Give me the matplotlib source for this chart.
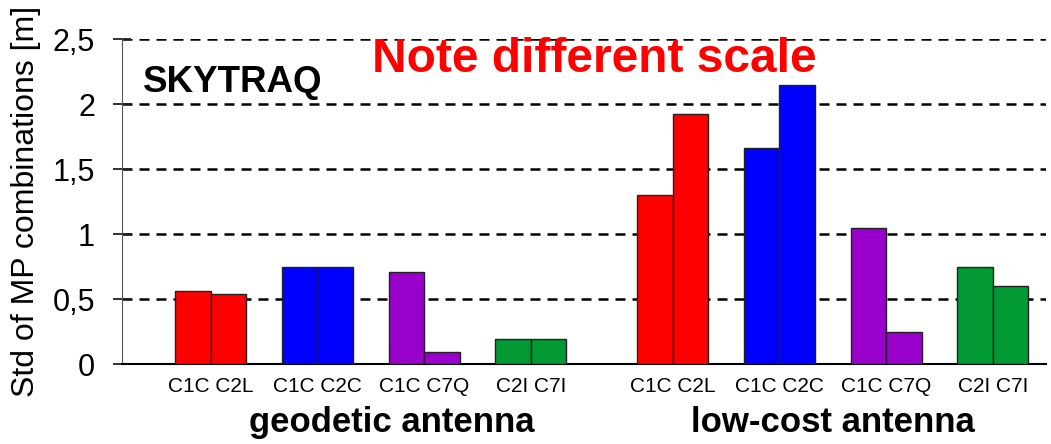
import numpy as np
import matplotlib.pyplot as plt
from matplotlib.transforms import blended_transform_factory

plt.rcParams['font.family'] = ['Liberation Sans', 'DejaVu Sans']

# std of MP combinations [m], first / second signal per pair
pairs = ['C1C C2L', 'C1C C2C', 'C1C C7Q', 'C2I C7I']
geodetic_a = [0.56, 0.75, 0.71, 0.19]
geodetic_b = [0.54, 0.75, 0.09, 0.19]
lowcost_a = [1.30, 1.66, 1.05, 0.75]
lowcost_b = [1.92, 2.15, 0.25, 0.60]
colors = ['#ff0000', '#0000ff', '#9900cc', '#009933']
yticks = [0, 0.5, 1, 1.5, 2, 2.5]
ytick_labels = ['0', '0,5', '1', '1,5', '2', '2,5']

W, H = 1051, 444
fig = plt.figure(figsize=(W / 100, H / 100), dpi=100)
ax = fig.add_axes([122 / W, 80 / H, 924 / W, 325 / H])

# group centres: 3 slots per pair, one spare slot before each antenna block
centres = np.concatenate([np.arange(4) * 3 + 2.5, np.arange(4) * 3 + 15.5])
first = geodetic_a + lowcost_a
second = geodetic_b + lowcost_b
cols = colors + colors
for c, v1, v2, col in zip(centres, first, second, cols):
    ax.bar(c - 0.5, v1, width=1, color=col, edgecolor='#222222', linewidth=1, zorder=3)
    ax.bar(c + 0.5, v2, width=1, color=col, edgecolor='#222222', linewidth=1, zorder=3)

ax.set_xlim(0, 26)
ax.set_ylim(0, 2.5)
ax.set_yticks(yticks, ytick_labels, fontsize=22)
ax.set_xticks(centres, pairs + pairs, fontsize=15)
ax.tick_params(axis='x', length=0, pad=9)
ax.tick_params(axis='y', length=13, width=1.3, direction='inout', pad=13,
               color='#222222')
ax.yaxis.grid(True, color='black', linewidth=1.8, linestyle=(0, (4, 2.8)), zorder=1)
ax.set_axisbelow(True)
for s in ['top', 'right']:
    ax.spines[s].set_visible(False)
ax.spines['left'].set_color('#555555')
ax.spines['bottom'].set_linewidth(1.5)
ax.set_ylabel('Std of MP combinations [m]', fontsize=23, labelpad=8)

trans = blended_transform_factory(ax.transData, fig.transFigure)
lbl = dict(fontsize=25, fontweight='bold', ha='center', va='baseline')
ax.text(7.6, 1 - 432 / H, 'geodetic antenna', transform=trans, **lbl)
ax.text(20.0, 1 - 432 / H, 'low-cost antenna', transform=trans, **lbl)

fig.text(143 / W, 1 - 92 / H, 'SKYTRAQ', fontsize=26.5, fontweight='bold',
         ha='left', va='baseline')
fig.text(372 / W, 1 - 72 / H, 'Note different scale', fontsize=34.5,
         fontweight='bold', color='#ff0000', ha='left', va='baseline')

fig.savefig('out.png', dpi=100)
